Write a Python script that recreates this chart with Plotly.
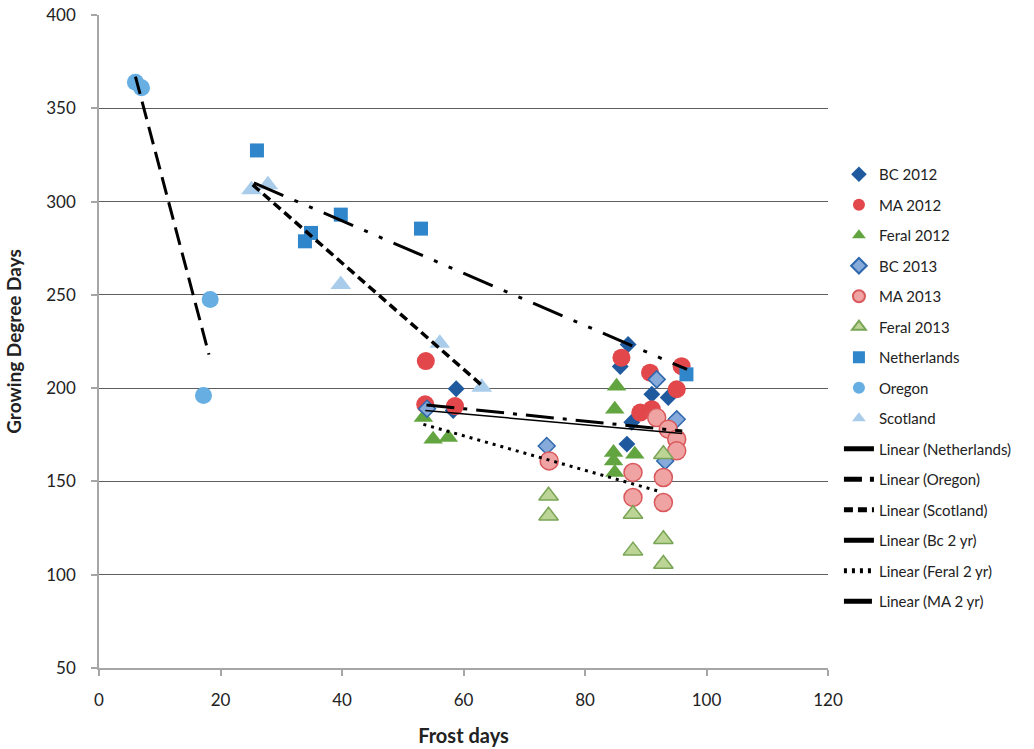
import plotly.graph_objects as go

# ---------------- data ----------------
bc12_x = [58.8, 87.1, 85.8, 91.0, 93.7, 87.7, 86.9, 58.3]
bc12_y = [199.7, 223.4, 211.6, 196.7, 195.0, 181.7, 170.0, 188.0]

ma12_x = [53.8, 53.7, 58.6, 86.0, 90.7, 95.9, 95.1, 89.1, 91.0]
ma12_y = [214.5, 191.3, 190.4, 216.3, 208.3, 211.8, 199.4, 186.9, 188.7]

fer12_x = [85.2, 84.9, 84.7, 84.7, 88.2, 84.9, 55.0, 57.5, 53.4]
fer12_y = [201.0, 188.7, 165.5, 161.0, 164.6, 154.8, 172.6, 173.5, 184.2]

bc13_x = [91.8, 95.1, 93.2, 73.7, 54.0]
bc13_y = [204.7, 183.3, 161.0, 169.0, 189.0]

ma13_x = [91.8, 93.7, 95.1, 95.1, 87.9, 92.9, 87.9, 92.9, 74.1]
ma13_y = [184.2, 178.0, 172.6, 166.4, 154.8, 152.1, 141.4, 138.7, 161.0]

fer13_x = [74.0, 74.0, 92.9, 87.9, 87.9, 92.9, 92.9]
fer13_y = [142.3, 131.6, 164.6, 132.5, 112.9, 119.0, 105.7]

nl_x = [26.0, 33.9, 34.9, 39.8, 53.0, 96.7]
nl_y = [327.4, 278.7, 283.2, 293.0, 285.5, 207.4]

or_x = [6.0, 7.0, 18.3, 17.2]
or_y = [364.0, 361.0, 247.5, 196.0]

sc_x = [25.1, 27.8, 39.8, 56.1, 63.0]
sc_y = [306.4, 309.0, 255.5, 224.0, 200.5]

# trendline end points (start x, end x, start y, end y)
trend_names = ["Linear (Netherlands)", "Linear (Oregon)", "Linear (Scotland)",
               "Linear (Bc 2 yr)", "Linear (Feral 2 yr)", "Linear (MA 2 yr)"]
trend_x0 = [25.5, 6.0, 25.3, 53.7, 53.4, 53.9]
trend_x1 = [96.8, 18.1, 63.2, 96.0, 92.3, 96.0]
trend_y0 = [310.0, 367.0, 309.0, 188.0, 180.6, 191.0]
trend_y1 = [210.0, 218.0, 201.0, 175.7, 144.6, 177.0]

x_ticks = [0, 20, 40, 60, 80, 100, 120]
y_ticks = [50, 100, 150, 200, 250, 300, 350, 400]

# ---------------- figure ----------------
FONT = "Lato, 'Open Sans', sans-serif"
fig = go.Figure()

def pts(name, xs, ys, symbol, size, fill, line_col=None, lw=0):
    fig.add_trace(go.Scatter(
        x=xs, y=ys, mode="markers", name=name, legendgroup=name,
        marker=dict(symbol=symbol, size=size, color=fill,
                    line=dict(color=line_col or fill, width=lw)),
    ))

pts("BC 2012", bc12_x, bc12_y, "diamond", 13, "#1F5A9E")
pts("MA 2012", ma12_x, ma12_y, "circle", 18, "#E2474B")
pts("Feral 2012", fer12_x, fer12_y, "triangle-up", 17, "#62A540")
pts("BC 2013", bc13_x, bc13_y, "diamond", 13, "#86AADA", "#2F68AE", 1.5)
pts("MA 2013", ma13_x, ma13_y, "circle", 18, "#F0A3A3", "#D9585B", 1.5)
pts("Feral 2013", fer13_x, fer13_y, "triangle-up", 17, "#BCD596", "#7AA556", 1.5)
pts("Netherlands", nl_x, nl_y, "square", 14, "#2F86CA")
pts("Oregon", or_x, or_y, "circle", 17, "#67AEE2")
pts("Scotland", sc_x, sc_y, "triangle-up", 18, "#AACCEB")

dashes = ["32px,12px,4px,12px,4px,12px", "18px,8px", "9px,5px",
          "solid", "3px,5px", "28px,9px,4px,9px"]
widths = [3, 3, 3.5, 1.5, 3, 3]
for i, nm in enumerate(trend_names):
    fig.add_trace(go.Scatter(
        x=[trend_x0[i], trend_x1[i]], y=[trend_y0[i], trend_y1[i]],
        mode="lines", name=nm, legendgroup=nm,
        line=dict(color="black", width=widths[i], dash=dashes[i]),
    ))

fig.update_layout(
    width=1034, height=749,
    margin=dict(l=99, r=206, t=15, b=81),
    paper_bgcolor="white", plot_bgcolor="white",
    font=dict(family=FONT, color="#222222", size=15),
    legend=dict(x=1.015, xanchor="left", y=0.781, yanchor="top",
                tracegroupgap=8, itemsizing="constant",
                font=dict(family=FONT, size=15, color="#222222"),
                bgcolor="rgba(0,0,0,0)"),
    xaxis=dict(range=[0, 120], tickvals=x_ticks, showgrid=False,
               showline=True, linecolor="#A6A6A6", linewidth=1.5,
               ticks="outside", ticklen=6, tickcolor="#A6A6A6", tickwidth=1.5,
               tickfont=dict(size=17, color="#222222"), ticklabelstandoff=10,
               zeroline=False, automargin=False,
               title=dict(text="<b>Frost days</b>", font=dict(size=20, color="#222222"),
                          standoff=20)),
    yaxis=dict(range=[50, 400], tickvals=y_ticks, showgrid=True,
               gridcolor="#5E5E5E", gridwidth=1.3,
               showline=True, linecolor="#A6A6A6", linewidth=1.5,
               ticks="outside", ticklen=6, tickcolor="#A6A6A6", tickwidth=1.5,
               tickfont=dict(size=17, color="#222222"), ticklabelstandoff=12,
               zeroline=False, automargin="left",
               title=dict(text="<b>Growing Degree Days</b>", font=dict(size=19, color="#222222"),
                          standoff=20)),
)

fig.write_html("out.html", config={"displayModeBar": False},
               post_script="document.body.style.margin='0';")
